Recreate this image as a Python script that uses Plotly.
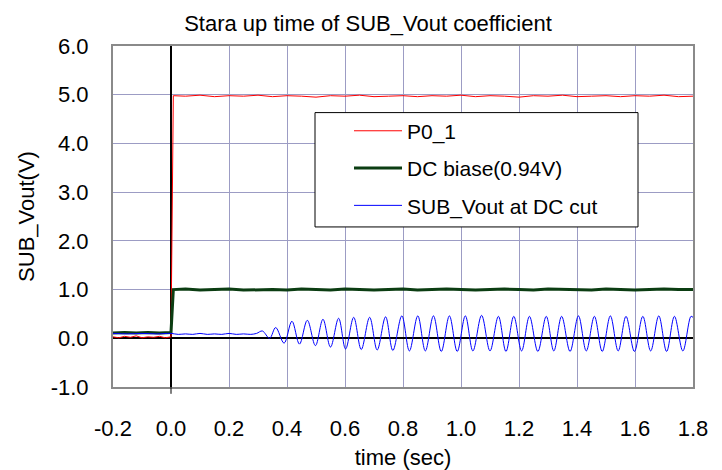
import plotly.graph_objects as go

# ---------------- data ----------------
title_text = "Stara up time of SUB_Vout coefficient"
x_title = "time (sec)"
y_title = "SUB_Vout(V)"

# P0_1 (red)
p0_t = [-0.20, -0.18, -0.16, -0.14, -0.12, -0.10, -0.08, -0.06, -0.04, -0.02, 0.00, 0.008,
        0.05, 0.10, 0.15, 0.20, 0.25, 0.30, 0.35, 0.40, 0.45, 0.50, 0.55, 0.60,
        0.65, 0.70, 0.75, 0.80, 0.85, 0.90, 0.95, 1.00, 1.05, 1.10, 1.15, 1.20,
        1.25, 1.30, 1.35, 1.40, 1.45, 1.50, 1.55, 1.60, 1.65, 1.70, 1.75, 1.80]
p0_v = [0.03, 0.01, 0.04, 0.02, 0.05, 0.01, 0.03, 0.02, 0.04, 0.01, 0.03, 4.98,
        4.97, 4.99, 4.96, 4.98, 4.97, 4.99, 4.96, 4.98, 4.97, 4.95, 4.98, 4.97,
        4.99, 4.96, 4.97, 4.98, 4.96, 4.98, 4.97, 4.99, 4.96, 4.98, 4.97, 4.95,
        4.98, 4.97, 4.99, 4.96, 4.97, 4.98, 4.96, 4.98, 4.97, 4.99, 4.96, 4.97]

# DC biase (dark green)
dc_t = [-0.20, -0.16, -0.12, -0.08, -0.04, 0.00, 0.008,
        0.05, 0.10, 0.15, 0.20, 0.25, 0.30, 0.35, 0.40, 0.45, 0.50, 0.55, 0.60,
        0.65, 0.70, 0.75, 0.80, 0.85, 0.90, 0.95, 1.00, 1.05, 1.10, 1.15, 1.20,
        1.25, 1.30, 1.35, 1.40, 1.45, 1.50, 1.55, 1.60, 1.65, 1.70, 1.75, 1.80]
dc_v = [0.11, 0.12, 0.11, 0.12, 0.11, 0.12, 1.00,
        1.01, 0.99, 1.00, 1.01, 0.99, 1.00, 1.00, 0.99, 1.01, 1.00, 0.99, 1.01,
        1.00, 0.99, 1.00, 1.01, 0.99, 1.00, 1.01, 1.00, 0.99, 1.00, 1.01, 1.00,
        0.99, 1.01, 1.00, 1.00, 0.99, 1.01, 1.00, 0.99, 1.00, 1.01, 1.00, 1.00]

# SUB_Vout at DC cut (blue): flat start, then oscillation extrema
sub_t = [-0.20, -0.15, -0.10, -0.05, 0.00, 0.025, 0.05, 0.075, 0.10, 0.125, 0.15, 0.175,
         0.20, 0.225, 0.25, 0.275, 0.295,
         0.315, 0.340, 0.361, 0.390, 0.417, 0.443, 0.470, 0.498, 0.524, 0.550,
         0.578, 0.602, 0.630, 0.656, 0.685, 0.711, 0.740, 0.765, 0.796, 0.822,
         0.851, 0.877, 0.905, 0.932, 0.960, 0.987, 1.015, 1.041, 1.071, 1.100,
         1.129, 1.155, 1.182, 1.209, 1.236, 1.265, 1.294, 1.320, 1.347, 1.376,
         1.405, 1.432, 1.460, 1.487, 1.515, 1.542, 1.569, 1.598, 1.627, 1.654,
         1.682, 1.709, 1.736, 1.765, 1.793, 1.800]
sub_v = [0.10, 0.09, 0.10, 0.09, 0.10, 0.08, 0.09, 0.08, 0.10, 0.08, 0.09, 0.08,
         0.10, 0.08, 0.09, 0.08, 0.10,
         0.15, 0.00, 0.22, -0.10, 0.35, -0.12, 0.37, -0.15, 0.39, -0.18,
         0.41, -0.22, 0.43, -0.23, 0.43, -0.24, 0.44, -0.25, 0.46, -0.26,
         0.46, -0.26, 0.46, -0.27, 0.46, -0.27, 0.46, -0.26, 0.47, -0.26,
         0.45, -0.27, 0.45, -0.26, 0.45, -0.27, 0.45, -0.26, 0.45, -0.27,
         0.46, -0.26, 0.45, -0.27, 0.46, -0.26, 0.45, -0.27, 0.45, -0.26,
         0.46, -0.27, 0.45, -0.26, 0.45, 0.43]

x_ticks = [-0.2, 0.0, 0.2, 0.4, 0.6, 0.8, 1.0, 1.2, 1.4, 1.6, 1.8]
y_ticks = [-1.0, 0.0, 1.0, 2.0, 3.0, 4.0, 5.0, 6.0]

FONT = "Liberation Sans, Arial, sans-serif"

fig = go.Figure()
fig.add_trace(go.Scatter(x=p0_t, y=p0_v, mode="lines", name="P0_1",
                         line=dict(color="#ff0000", width=1), legendgroup="a"))
fig.add_trace(go.Scatter(x=dc_t, y=dc_v, mode="lines", name="DC biase(0.94V)",
                         line=dict(color="#0b3d12", width=3), legendgroup="b"))
fig.add_trace(go.Scatter(x=sub_t, y=sub_v, mode="lines", name="SUB_Vout at DC cut",
                         line=dict(color="#0000ff", width=1, shape="spline", smoothing=1.0),
                         legendgroup="c"))

# legend frame
fig.add_shape(type="rect", xref="paper", yref="paper",
              x0=(315 - 113) / 580, x1=(638 - 113) / 580,
              y0=(389 - 228) / 343, y1=(389 - 113) / 343,
              line=dict(color="black", width=1), fillcolor="white", layer="above")
# y-axis (x=0) extension below plot
fig.add_shape(type="line", xref="x", yref="paper", x0=0, x1=0, y0=-0.02, y1=0,
              line=dict(color="black", width=1))

axis_common = dict(showgrid=True, gridcolor="#9c9cc4", gridwidth=1,
                   zeroline=True, zerolinecolor="black", zerolinewidth=1.5,
                   showline=True, mirror=True, linecolor="#8a8a8a", linewidth=2,
                   ticks="", tickfont=dict(family=FONT, size=22, color="black"),
                   title_font=dict(family=FONT, size=22, color="black"))

fig.update_xaxes(range=[-0.2, 1.8], tickvals=x_ticks,
                 ticktext=[f"{v:.1f}" for v in x_ticks],
                 title_text=x_title, title_standoff=9, ticklabelstandoff=21,
                 **axis_common)
fig.update_yaxes(range=[-1.0, 6.0], tickvals=y_ticks,
                 ticktext=[f"{v:.1f}" for v in y_ticks],
                 title_text=y_title, title_standoff=10, ticklabelstandoff=18,
                 **axis_common)

fig.update_layout(
    width=722, height=470,
    margin=dict(l=105, r=37, t=38, b=89),
    paper_bgcolor="white", plot_bgcolor="white",
    font=dict(family=FONT, color="black"),
    title=dict(text=title_text, x=0.4986, xref="container", xanchor="center",
               y=0.968, yref="container", yanchor="middle",
               font=dict(family=FONT, size=22, color="black")),
    showlegend=True,
    legend=dict(x=(349 - 113) / 580, y=(389 - 111) / 343, xanchor="left", yanchor="top",
                bgcolor="rgba(0,0,0,0)", borderwidth=0, traceorder="grouped",
                tracegroupgap=7, itemwidth=48,
                font=dict(family=FONT, size=21, color="black")),
)

fig.write_html("out.html")
